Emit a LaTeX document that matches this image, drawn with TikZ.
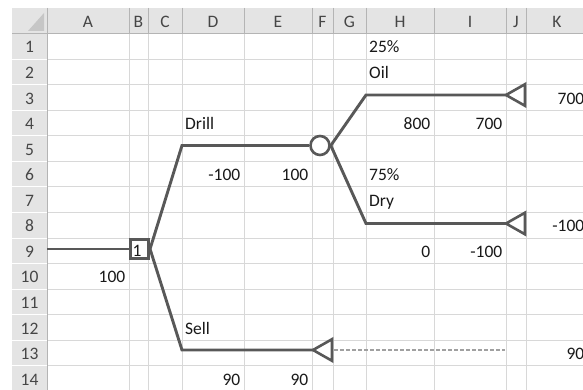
\documentclass[tikz,border=0pt]{standalone}
\usepackage{fontspec}
\setmainfont{Carlito}
\newcommand\cellfont{\fontsize{17.5}{20}\selectfont}
\definecolor{gridc}{RGB}{216,216,216}
\definecolor{hdrfill}{RGB}{228,228,228}
\definecolor{hdrline}{RGB}{180,180,180}
\definecolor{hdrtext}{RGB}{70,70,70}
\definecolor{treec}{RGB}{88,88,88}
\definecolor{dashc}{RGB}{160,160,160}
\definecolor{txtc}{RGB}{25,25,25}
\tikzset{
  gridline/.style={draw=gridc, line width=0.8pt},
  hdrsep/.style={draw=hdrline, line width=0.8pt},
  tree/.style={draw=treec, line width=2.9pt, line join=miter},
  lt/.style={anchor=base west, inner sep=0pt, font=\cellfont, text=txtc},
  rt/.style={anchor=base east, inner sep=0pt, font=\cellfont, text=txtc},
  hdr/.style={anchor=base, inner sep=0pt, font=\cellfont, text=hdrtext},
  decbox/.style={draw=treec, line width=2.6pt, fill=white, minimum width=18.5pt, minimum height=18.5pt, inner sep=0pt},
  chance/.style={draw=treec, line width=2.6pt, fill=white, circle, minimum size=19pt, inner sep=0pt},
  endtri/.style={draw=treec, line width=2.6pt, fill=white, line join=miter},
  dashlink/.style={draw=dashc, line width=1.1pt, dash pattern=on 3.5pt off 2.5pt},
}
\begin{document}
\begin{tikzpicture}[x=1pt,y=-1pt]
\useasboundingbox (0,0) rectangle (583,390);
\clip (0,0) rectangle (583,390);
\fill[white] (0,0) rectangle (583,390);
% headers
\fill[hdrfill] (12,8) rectangle (583,33.5);
\fill[hdrfill] (12,8) rectangle (47,390);
\fill[gray!45] (44,13) -- (44,31) -- (28,31) -- cycle;
% grid lines
\foreach \k in {1,...,14} {
  \draw[gridline] (47,33.5+\k*25.55) -- (583,33.5+\k*25.55);
  \draw[draw=white, line width=0.8pt] (12,33.5+\k*25.55) -- (47,33.5+\k*25.55);
}
\foreach \xx in {129,148,182,244,312,333,366,434,506,526} {
  \draw[gridline] (\xx,33.5) -- (\xx,390);
  \draw[hdrsep] (\xx,8) -- (\xx,33.5);
}
\draw[hdrsep] (47,8) -- (47,390);
\draw[hdrsep] (12,33.5) -- (583,33.5);
% column letters
\foreach \cx/\lab in {88/A,138.5/B,165/C,213/D,278/E,322.5/F,349.5/G,400/H,470/I,516/J,557/K}
  \node[hdr] (col\lab) at (\cx,28) {\lab};
% row numbers
\foreach \r in {1,...,14}
  \node[hdr] (row\r) at (29.5,33.5+\r*25.55-6.05) {\r};
% tree geometry
\coordinate (root) at (47,249);
\node[decbox] (sq) at (139.5,249) {};
\node[chance] (ch) at (320,145.5) {};
\coordinate (bD) at (182,145.5);
\coordinate (bS) at (182,350);
\coordinate (bO) at (366,95);
\coordinate (bR) at (366,223.5);
\coordinate (tO) at (506,95);
\coordinate (tR) at (506,223.5);
\coordinate (tS) at (313,350);
\coordinate (dE) at (505,350);
% branches
\draw[tree] (root) -- (sq.west);
\draw[tree] (sq.east) -- (bD) -- (ch.west);
\draw[tree] (sq.east) -- (bS) -- (tS);
\draw[tree] (ch.east) -- (bO) -- (tO);
\draw[tree] (ch.east) -- (bR) -- (tR);
% end triangles
\draw[endtri] (tO) -- ++(19,-10.8) -- ++(0,21.6) -- cycle;
\draw[endtri] (tR) -- ++(19,-10.8) -- ++(0,21.6) -- cycle;
\draw[endtri] (tS) -- ++(19,-10.8) -- ++(0,21.6) -- cycle;
\coordinate (tSb) at (334,350);
\draw[dashlink] (tSb) -- (dE);
% cell texts
\node[lt] (h1) at (369,53) {25\%};
\node[lt] (h2) at (369,78.55) {Oil};
\node[rt] (k3) at (584.5,104.1) {700};
\node[lt] (d4) at (185,129.65) {Drill};
\node[rt] (h4) at (430.5,129.65) {800};
\node[rt] (i4) at (502.5,129.65) {700};
\node[rt] (d6) at (240.5,180.75) {-100};
\node[rt] (e6) at (308.5,180.75) {100};
\node[lt] (h6) at (369,180.75) {75\%};
\node[lt] (h7) at (369,206.3) {Dry};
\node[rt] (k8) at (584.5,231.85) {-100};
\node[lt] (b9) at (132.5,256.5) {1};
\node[rt] (h9) at (430.5,257.4) {0};
\node[rt] (i9) at (502.5,257.4) {-100};
\node[rt] (a10) at (125.5,282.95) {100};
\node[lt] (d12) at (185,334.05) {Sell};
\node[rt] (k13) at (584.5,359.6) {90};
\node[rt] (d14) at (240.5,385.15) {90};
\node[rt] (e14) at (308.5,385.15) {90};
\end{tikzpicture}
\end{document}
